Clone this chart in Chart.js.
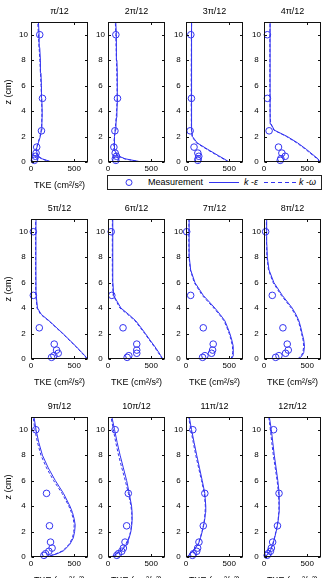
<!DOCTYPE html>
<html><head><meta charset="utf-8">
<script src="https://cdn.jsdelivr.net/npm/chart.js@4.4.1/dist/chart.umd.min.js"></script>
<style>
html,body{margin:0;padding:0;background:#fff;width:326px;height:578px;overflow:hidden;position:relative;font-family:"Liberation Sans",Arial,sans-serif;}
canvas{position:absolute;}
#legend{position:absolute;left:107px;top:175px;width:213px;height:13px;border:1px solid #222;background:#fff;font-size:9px;color:#000;}
#legend span{position:absolute;top:0px;line-height:13px;white-space:nowrap;}
#legend svg{position:absolute;left:0;top:0;}
</style></head>
<body>
<div id="legend">
 <svg width="213" height="13">
  <circle cx="21" cy="6.5" r="3" fill="none" stroke="#3333f0" stroke-width="1"/>
  <line x1="101" y1="6.5" x2="131" y2="6.5" stroke="#3333f0" stroke-width="1"/>
  <line x1="156" y1="6.5" x2="188" y2="6.5" stroke="#3333f0" stroke-width="1" stroke-dasharray="4,3"/>
 </svg>
 <span style="left:40px">Measurement</span>
 <span style="left:136px"><i>k</i> -<i>ε</i></span>
 <span style="left:191px"><i>k</i> -<i>ω</i></span>
</div>
<script>
// ---- data ----
const panelTitles = ['π/12','2π/12','3π/12','4π/12','5π/12','6π/12','7π/12','8π/12','9π/12','10π/12','11π/12','12π/12'];
const xTicks = [0, 500];
const yTicks = [0, 2, 4, 6, 8, 10];
const zMeas  = [0.13, 0.26, 0.45, 0.7, 1.17, 2.45, 5, 10];
const zModel = [0, 0.25, 0.5, 1, 1.5, 2, 2.5, 3, 3.5, 4, 5, 6, 7, 8, 9, 10, 11];

const meas1  = [39, 43, 51, 59, 66, 121, 133, 101];
const meas2  = [91, 85, 98, 83, 68, 80, 110, 91];
const meas3  = [137, 141, 148, 137, 93, 48, 63, 56];
const meas4  = [188, 195, 246, 207, 168, 59, 39, 39];
const meas5  = [238, 265, 315, 296, 269, 96, 27, 27];
const meas6  = [222, 241, 333, 333, 333, 174, 44, 37];
const meas7  = [192, 219, 296, 308, 315, 200, 54, 8];
const meas8  = [135, 173, 250, 281, 269, 219, 96, 19];
const meas9  = [150, 169, 207, 244, 226, 214, 180, 56];
const meas10 = [102, 121, 159, 178, 197, 216, 235, 83];
const meas11 = [75, 86, 124, 135, 150, 200, 218, 79];
const meas12 = [37, 48, 74, 85, 100, 156, 174, 111];

const kEps1  = [240, 130, 75, 62, 85, 108, 121, 126, 128, 129, 125, 121, 115, 109, 101, 94, 86];
const kOmg1  = [230, 120, 70, 58, 80, 104, 118, 124, 126, 127, 122, 116, 110, 102, 94, 86, 78];
const kEps2  = [390, 200, 110, 70, 72, 78, 85, 92, 98, 103, 110, 109, 106, 103, 99, 95, 90];
const kOmg2  = [380, 190, 105, 66, 68, 74, 82, 89, 95, 100, 106, 105, 102, 98, 94, 90, 85];
const kEps3  = [500, 440, 375, 250, 130, 75, 66, 65, 64, 64, 63, 63, 63, 64, 65, 66, 68];
const kOmg3  = [490, 430, 365, 240, 120, 70, 63, 62, 61, 61, 60, 60, 60, 61, 62, 63, 65];
const kEps4  = [650, 625, 580, 490, 390, 270, 120, 80, 74, 72, 70, 70, 70, 70, 70, 70, 72];
const kOmg4  = [645, 615, 570, 480, 380, 260, 115, 78, 72, 70, 68, 68, 68, 68, 68, 68, 70];
const kEps5  = [655, 625, 590, 520, 445, 370, 290, 210, 120, 75, 60, 58, 57, 57, 57, 57, 58];
const kOmg5  = [650, 620, 585, 515, 440, 365, 285, 205, 112, 70, 56, 54, 53, 53, 53, 53, 54];
const kEps6  = [635, 612, 590, 540, 485, 433, 378, 322, 240, 150, 65, 57, 55, 55, 55, 55, 56];
const kOmg6  = [630, 605, 582, 532, 478, 425, 370, 312, 228, 138, 60, 52, 50, 50, 50, 50, 51];
const kEps7  = [527, 545, 548, 546, 530, 508, 480, 450, 395, 335, 200, 104, 54, 38, 36, 35, 38];
const kOmg7  = [520, 535, 540, 538, 522, 500, 472, 440, 385, 322, 188, 96, 50, 35, 33, 32, 35];
const kEps8  = [400, 440, 460, 469, 460, 442, 425, 404, 370, 327, 212, 115, 58, 38, 33, 31, 31];
const kOmg8  = [390, 430, 450, 460, 452, 435, 418, 396, 360, 316, 200, 106, 52, 34, 30, 28, 28];
const kEps9  = [180, 300, 380, 450, 490, 505, 512, 500, 480, 451, 376, 282, 200, 132, 90, 58, 35];
const kOmg9  = [170, 290, 370, 440, 480, 495, 500, 490, 468, 438, 360, 262, 180, 115, 75, 45, 25];
const kEps10 = [45, 100, 159, 216, 245, 265, 275, 280, 279, 273, 246, 216, 178, 140, 106, 76, 45];
const kOmg10 = [40, 95, 150, 205, 240, 262, 272, 277, 274, 266, 236, 200, 160, 122, 90, 62, 35];
const kEps11 = [11, 50, 86, 143, 168, 188, 205, 218, 225, 229, 218, 188, 156, 124, 94, 64, 38];
const kOmg11 = [10, 48, 82, 138, 165, 185, 202, 215, 221, 224, 212, 180, 146, 113, 84, 56, 30];
const kEps12 = [19, 45, 74, 104, 123, 141, 156, 167, 174, 178, 174, 160, 140, 119, 102, 85, 62];
const kOmg12 = [17, 42, 70, 100, 120, 138, 153, 164, 171, 174, 168, 152, 130, 108, 90, 74, 55];

const measAll = [meas1,meas2,meas3,meas4,meas5,meas6,meas7,meas8,meas9,meas10,meas11,meas12];
const kEpsAll = [kEps1,kEps2,kEps3,kEps4,kEps5,kEps6,kEps7,kEps8,kEps9,kEps10,kEps11,kEps12];
const kOmgAll = [kOmg1,kOmg2,kOmg3,kOmg4,kOmg5,kOmg6,kOmg7,kOmg8,kOmg9,kOmg10,kOmg11,kOmg12];

// ---- layout ----
const FONT = '"Liberation Sans", Arial, sans-serif';
const BLUE = '#3333f0';
const colL = [31, 108, 186, 264];
const rowT = [22, 219, 417];
const plotW = 58, plotH = 140, TH = 20, XH = 32, PADR = 4;

const framePlugin = {
  id: 'frame',
  afterDraw(chart) {
    const {ctx, chartArea: a, scales: {x, y}} = chart;
    ctx.save();
    ctx.strokeStyle = '#111';
    ctx.lineWidth = 1;
    const L = Math.round(a.left) + 0.5, R = Math.round(a.right) - 0.5;
    const T = Math.round(a.top) + 0.5, B = Math.round(a.bottom) - 0.5;
    ctx.strokeRect(L, T, R - L, B - T);
    ctx.beginPath();
    x.ticks.forEach(t => {
      const px = Math.round(x.getPixelForValue(t.value)) + 0.5;
      ctx.moveTo(px, B); ctx.lineTo(px, B - 2.5);
      ctx.moveTo(px, T); ctx.lineTo(px, T + 2.5);
    });
    y.ticks.forEach(t => {
      const py = Math.round(y.getPixelForValue(t.value)) + 0.5;
      ctx.moveTo(L, py); ctx.lineTo(L + 2.5, py);
      ctx.moveTo(R, py); ctx.lineTo(R - 2.5, py);
    });
    ctx.stroke();
    ctx.restore();
  }
};

const pts = (xs, zs) => xs.map((v, i) => ({x: v, y: zs[i]}));

for (let p = 0; p < 12; p++) {
  const r = Math.floor(p / 4), c = p % 4;
  const YW = c === 0 ? 31 : 26;
  const cv = document.createElement('canvas');
  const w = YW + plotW + PADR, h = TH + plotH + XH;
  cv.width = w; cv.height = h;
  cv.style.width = w + 'px'; cv.style.height = h + 'px';
  cv.style.left = (colL[c] - YW) + 'px';
  cv.style.top = (rowT[r] - TH) + 'px';
  document.body.appendChild(cv);
  const showXTitle = !(r === 0 && c > 0);
  new Chart(cv, {
    type: 'scatter',
    data: {datasets: [
      {label: 'Measurement', data: pts(measAll[p], zMeas), showLine: false, pointStyle: 'circle',
       pointRadius: 3.3, pointBorderWidth: 1, borderColor: BLUE, backgroundColor: 'rgba(0,0,0,0)', clip: false},
      {label: 'k-ε', data: pts(kEpsAll[p], zModel), showLine: true, pointRadius: 0,
       borderColor: BLUE, borderWidth: 1, backgroundColor: BLUE},
      {label: 'k-ω', data: pts(kOmgAll[p], zModel), showLine: true, pointRadius: 0,
       borderColor: BLUE, borderWidth: 1, borderDash: [3, 2], backgroundColor: BLUE}
    ]},
    options: {
      responsive: false, animation: false, devicePixelRatio: 1,
      layout: {padding: {left: 0, right: PADR, top: 0, bottom: 0}},
      plugins: {
        legend: {display: false}, tooltip: {enabled: false},
        title: {display: true, text: panelTitles[p], color: '#000', align: 'center', fullSize: false,
                font: {family: FONT, size: 9, weight: 'normal'}, padding: {top: 4, bottom: 5.2}}
      },
      scales: {
        x: {type: 'linear', min: 0, max: 660,
            grid: {display: false, drawTicks: false}, border: {display: false},
            ticks: {color: '#000', font: {family: FONT, size: 8}, padding: 2, maxRotation: 0, includeBounds: false},
            afterBuildTicks: s => { s.ticks = xTicks.map(v => ({value: v})); },
            afterFit: s => { s.height = XH; },
            title: {display: showXTitle, text: 'TKE (cm²/s²)', color: '#000',
                    font: {family: FONT, size: 9}, padding: {top: 0, bottom: 3}}},
        y: {type: 'linear', min: 0, max: 11,
            grid: {display: false, drawTicks: false}, border: {display: false},
            ticks: {color: '#000', font: {family: FONT, size: 8}, padding: 3, crossAlign: 'center', includeBounds: false},
            afterBuildTicks: s => { s.ticks = yTicks.map(v => ({value: v})); },
            afterFit: s => { s.width = YW; },
            title: {display: c === 0, text: 'z (cm)', color: '#000',
                    font: {family: FONT, size: 9}, padding: {top: 3, bottom: 0}}}
      }
    },
    plugins: [framePlugin]
  });
}
</script>
</body></html>
